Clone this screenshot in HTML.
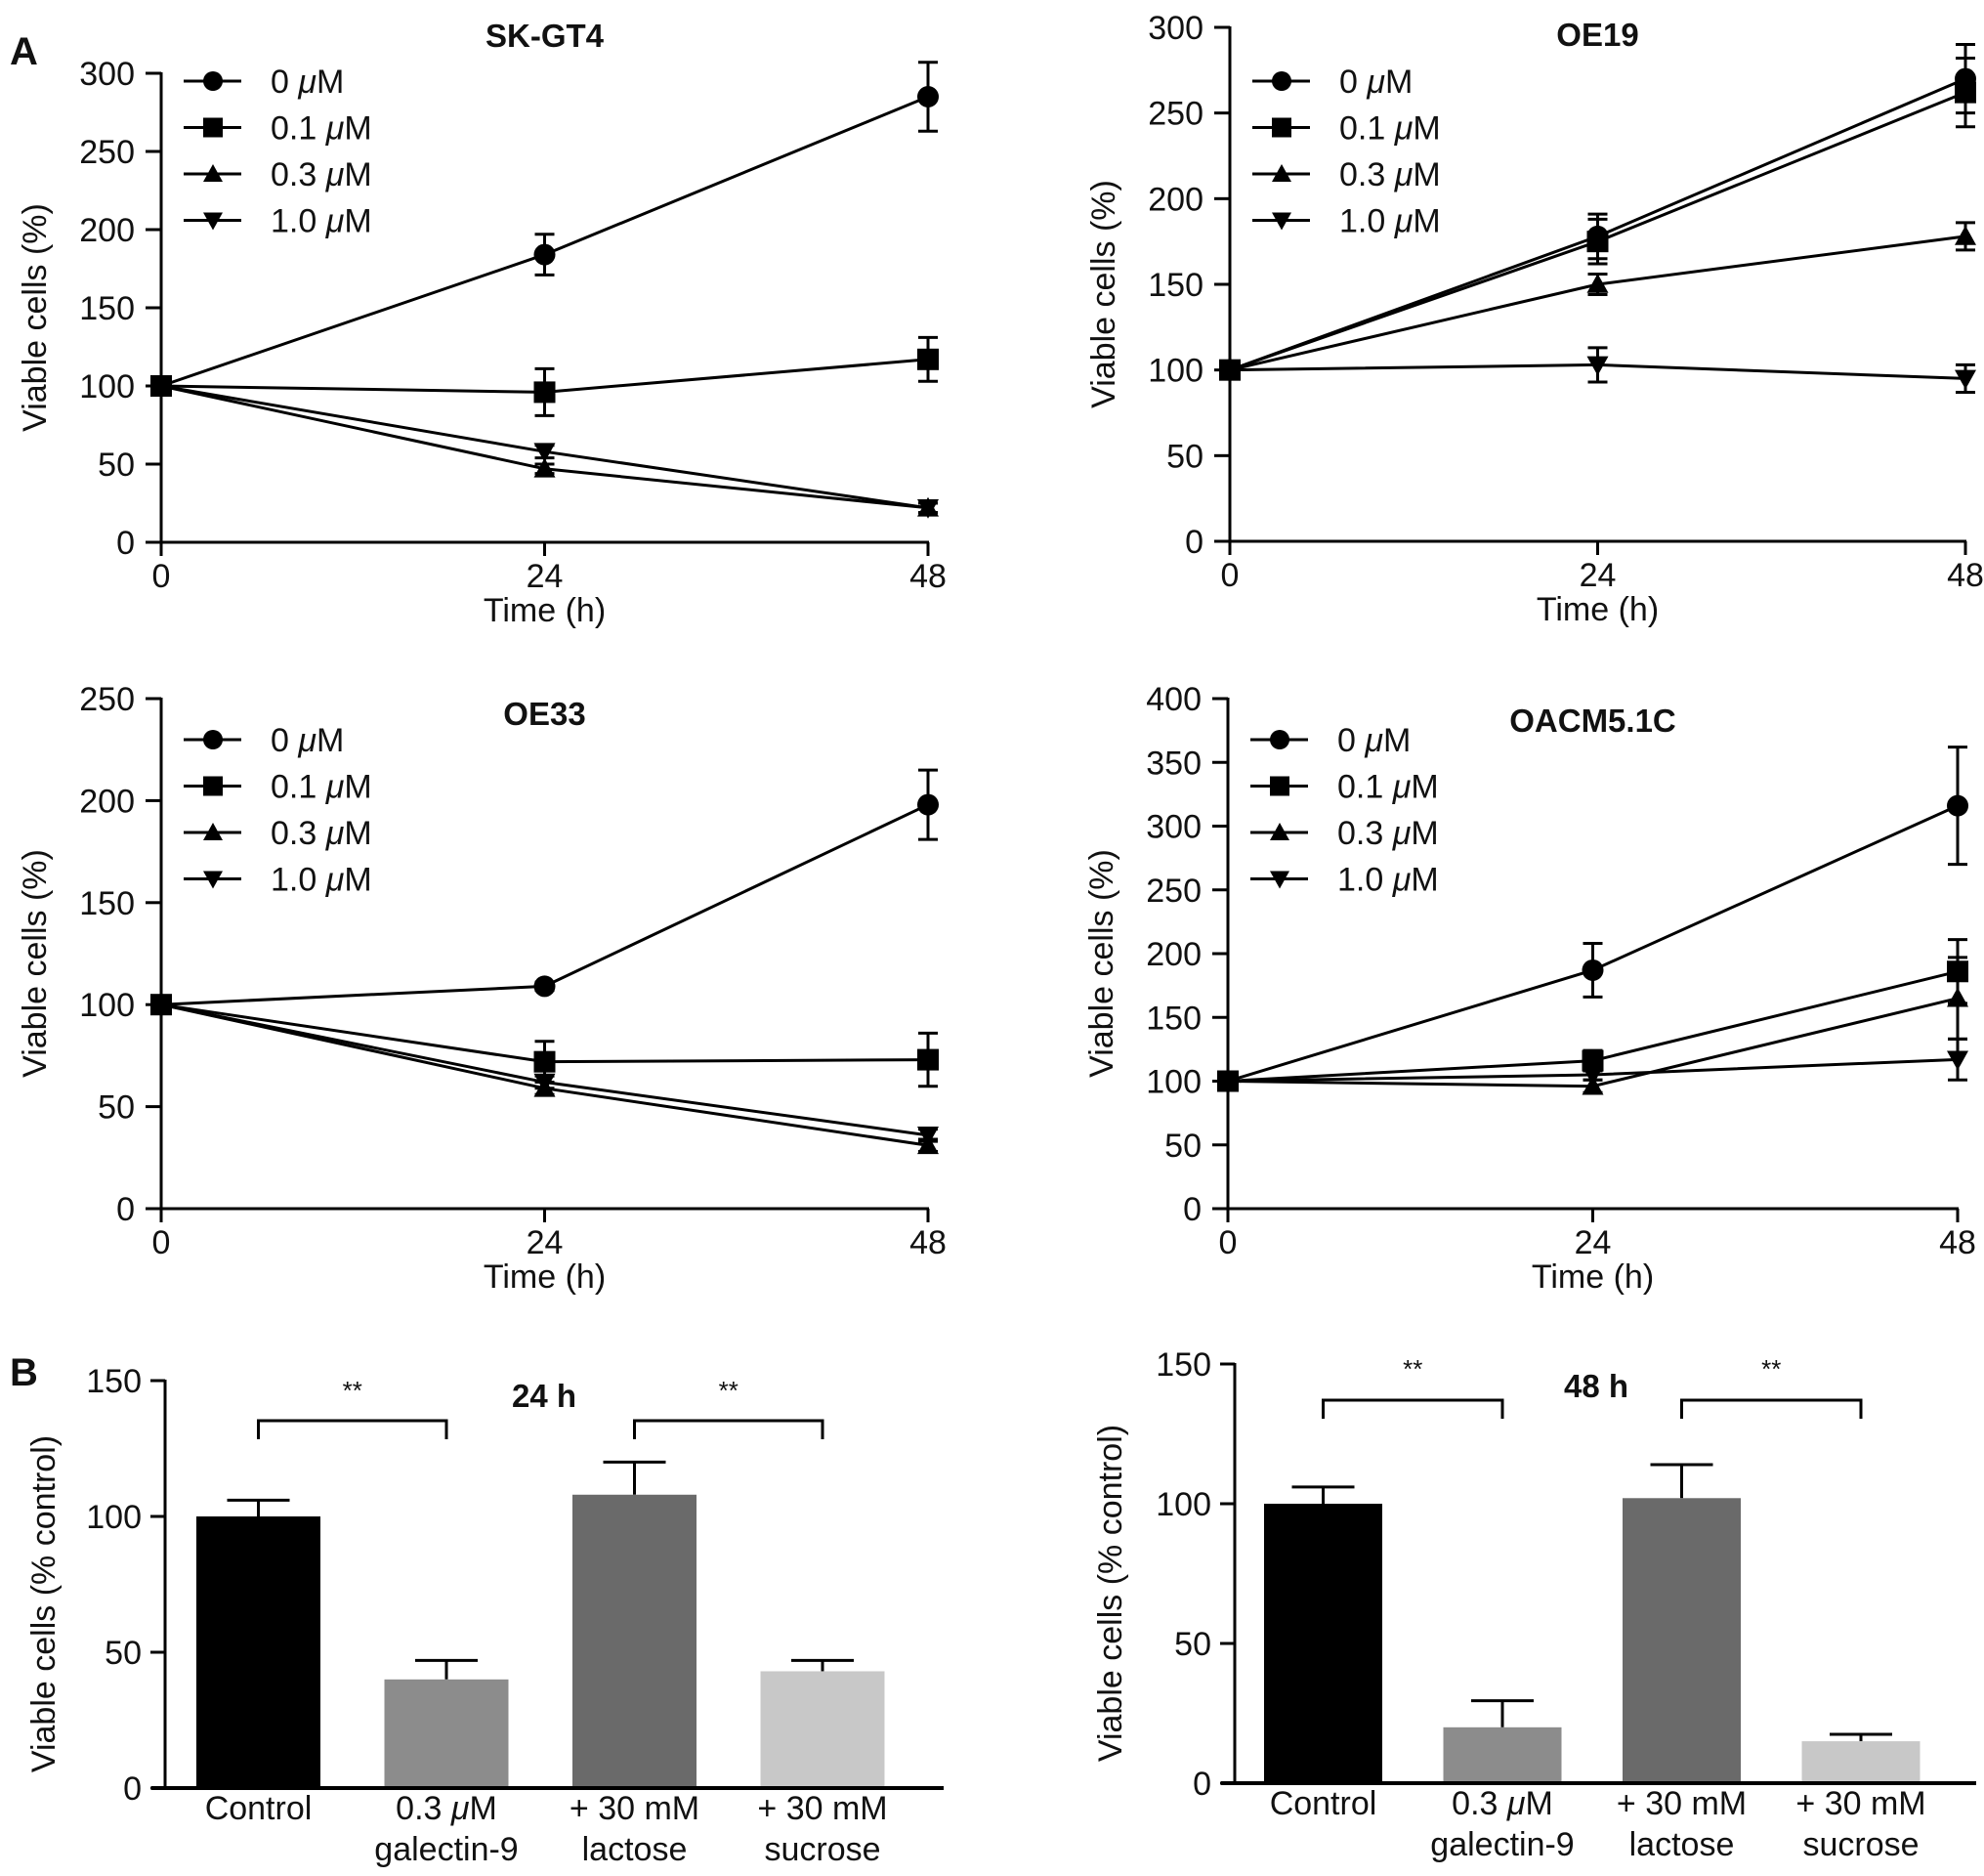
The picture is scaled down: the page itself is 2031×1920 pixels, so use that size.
<!DOCTYPE html>
<html><head><meta charset="utf-8">
<style>
html,body{margin:0;padding:0;background:#fff;}
svg{display:block;}
text{font-family:"Liberation Sans",sans-serif;fill:#111;}
</style></head>
<body>
<svg id="fig" width="2031" height="1920" viewBox="0 0 2031 1920" xmlns="http://www.w3.org/2000/svg">
<text x="10" y="66" font-size="40" font-weight="bold">A</text>
<text x="10" y="1418" font-size="40" font-weight="bold">B</text>
</svg>
<script>
// ---- data ----
const times = [0, 24, 48];
const seriesLabels = ["0 μM", "0.1 μM", "0.3 μM", "1.0 μM"];
const markerTypes = ["circle", "square", "up", "down"];

const skgt4Values = [[100,184,285],[100,96,117],[100,47,22],[100,58,22]];
const skgt4Errors = [[0,13,22],[0,15,14],[0,3,3],[0,4,3]];
const skgt4Ticks = [0,50,100,150,200,250,300];

const oe19Values = [[100,178,270],[100,175,262],[100,150,178],[100,103,95]];
const oe19Errors = [[0,13,20],[0,13,20],[0,6,8],[0,10,8]];
const oe19Ticks = [0,50,100,150,200,250,300];

const oe33Values = [[100,109,198],[100,72,73],[100,59,31],[100,62,36]];
const oe33Errors = [[0,2,17],[0,10,13],[0,3,3],[0,3,3]];
const oe33Ticks = [0,50,100,150,200,250];

const oacmValues = [[100,187,316],[100,116,186],[100,96,165],[100,105,117]];
const oacmErrors = [[0,21,46],[0,8,25],[0,5,32],[0,4,16]];
const oacmTicks = [0,50,100,150,200,250,300,350,400];

const barCategories = [["Control"],["0.3 μM","galectin-9"],["+ 30 mM","lactose"],["+ 30 mM","sucrose"]];
const bar24Values = [100, 40, 108, 43];
const bar24Errors = [6, 7, 12, 4];
const bar48Values = [100, 20, 102, 15];
const bar48Errors = [6, 9.5, 12, 2.5];
const barTicks = [0, 50, 100, 150];
const barColors = ["#000000", "#8c8c8c", "#6a6a6a", "#c8c8c8"];

const FS = 34;
const NS = "http://www.w3.org/2000/svg";
const svg = document.getElementById("fig");
function mk(tag, attrs, parent) {
  const e = document.createElementNS(NS, tag);
  for (const k in attrs) e.setAttribute(k, attrs[k]);
  (parent || svg).appendChild(e);
  return e;
}
function marker(g, type, cx, cy, s) {
  let m;
  if (type === "circle") m = mk("circle", {cx: cx, cy: cy, r: s, fill: "#000"}, g);
  else if (type === "square") m = mk("rect", {x: cx - s, y: cy - s, width: 2 * s, height: 2 * s, fill: "#000"}, g);
  else if (type === "up") m = mk("polygon", {points: `${cx},${cy - s} ${cx - s},${cy + s * 0.8} ${cx + s},${cy + s * 0.8}`, fill: "#000"}, g);
  else m = mk("polygon", {points: `${cx},${cy + s} ${cx - s},${cy - s * 0.8} ${cx + s},${cy - s * 0.8}`, fill: "#000"}, g);
  return m;
}

function lineChart(cfg) {
  const g = mk("g", {});
  
  
  const ymax = cfg.ticks[cfg.ticks.length - 1];
  const X = t => cfg.x0 + (t - times[0]) / (times[times.length - 1] - times[0]) * (cfg.x1 - cfg.x0);
  const Y = v => cfg.y0 - v / ymax * (cfg.y0 - cfg.ytop);
  const ya = mk("line", {x1: cfg.x0, y1: cfg.y0, x2: cfg.x0, y2: cfg.ytop - 1, stroke: "#000", "stroke-width": 3}, g);
  
  
  const xa = mk("line", {x1: cfg.x0 - 1, y1: cfg.y0, x2: cfg.x1 + 1, y2: cfg.y0, stroke: "#000", "stroke-width": 3}, g);
  
  
  cfg.ticks.forEach(t => {
    mk("line", {x1: cfg.x0 - 16, y1: Y(t), x2: cfg.x0, y2: Y(t), stroke: "#000", "stroke-width": 3}, g);
    const tl = mk("text", {x: cfg.x0 - 27, y: Y(t) + 12, "font-size": FS, "text-anchor": "end"}, g);
    tl.textContent = t;
    
    
  });
  times.forEach(t => {
    mk("line", {x1: X(t), y1: cfg.y0, x2: X(t), y2: cfg.y0 + 14, stroke: "#000", "stroke-width": 3}, g);
    const tl = mk("text", {x: X(t), y: cfg.y0 + 46, "font-size": FS, "text-anchor": "middle"}, g);
    tl.textContent = t;
    
    
  });
  const xt = mk("text", {x: X(24), y: cfg.y0 + 81, "font-size": FS, "text-anchor": "middle"}, g);
  xt.textContent = "Time (h)";
  
  
  const ytx = cfg.x0 - 118, ytc = (cfg.y0 + cfg.ytop) / 2 + 10;
  const yt = mk("text", {x: ytx, y: ytc, "font-size": FS, "text-anchor": "middle", transform: `rotate(-90 ${ytx} ${ytc})`}, g);
  yt.textContent = "Viable cells (%)";
  
  
  const ti = mk("text", {x: X(24), y: cfg.titleY, "font-size": 33, "font-weight": "bold", "text-anchor": "middle"}, g);
  ti.textContent = cfg.title;
  
  
  cfg.values.forEach((vals, si) => {
    const sg = mk("g", {}, g);
    
    
    const pts = vals.map((v, i) => `${X(times[i])},${Y(v)}`).join(" ");
    mk("polyline", {points: pts, fill: "none", stroke: "#000", "stroke-width": 3}, sg);
    vals.forEach((v, i) => {
      const e = cfg.errors[si][i];
      if (e > 0) {
        const cx = X(times[i]);
        mk("line", {x1: cx, y1: Y(v + e), x2: cx, y2: Y(v - e), stroke: "#000", "stroke-width": 3}, sg);
        mk("line", {x1: cx - 10, y1: Y(v + e), x2: cx + 10, y2: Y(v + e), stroke: "#000", "stroke-width": 3}, sg);
        mk("line", {x1: cx - 10, y1: Y(v - e), x2: cx + 10, y2: Y(v - e), stroke: "#000", "stroke-width": 3}, sg);
      }
      const m = marker(sg, markerTypes[si], X(times[i]), Y(v), 11);
      
      
    });
  });
  seriesLabels.forEach((lab, i) => {
    const ly = cfg.legY + i * 47.5;
    const lg = mk("g", {}, g);
    
    
    mk("line", {x1: cfg.x0 + 23, y1: ly, x2: cfg.x0 + 82, y2: ly, stroke: "#000", "stroke-width": 3}, lg);
    marker(lg, markerTypes[i], cfg.x0 + 53, ly, 10);
    const parts = lab.split(" ");
    const t = mk("text", {x: cfg.x0 + 112, y: ly + 12, "font-size": FS}, lg);
    t.textContent = parts[0] + " ";
    const ts = mk("tspan", {"font-style": "italic"}, t);
    ts.textContent = "μ";
    const ts2 = mk("tspan", {}, t);
    ts2.textContent = "M";
  });
}

lineChart({name: "chart-sk-gt4", title: "SK-GT4", x0: 165, x1: 950, y0: 555, ytop: 75, titleY: 48, legY: 83, ticks: skgt4Ticks, values: skgt4Values, errors: skgt4Errors});
lineChart({name: "chart-oe19", title: "OE19", x0: 1259, x1: 2012, y0: 554, ytop: 28, titleY: 47, legY: 83, ticks: oe19Ticks, values: oe19Values, errors: oe19Errors});
lineChart({name: "chart-oe33", title: "OE33", x0: 165, x1: 950, y0: 1237, ytop: 715, titleY: 742, legY: 757, ticks: oe33Ticks, values: oe33Values, errors: oe33Errors});
lineChart({name: "chart-oacm5-1c", title: "OACM5.1C", x0: 1257, x1: 2004, y0: 1237, ytop: 715, titleY: 749, legY: 757, ticks: oacmTicks, values: oacmValues, errors: oacmErrors});

function barChart(cfg) {
  const g = mk("g", {});
  
  
  const ymax = barTicks[barTicks.length - 1];
  const Y = v => cfg.y0 - v / ymax * (cfg.y0 - cfg.ytop);
  const slot = cfg.slot;
  const bw = cfg.bw;
  const BX = i => cfg.barStart + i * slot;
  cfg.values.forEach((v, i) => {
    const cx = BX(i) + bw / 2;
    const e = cfg.errors[i];
    mk("line", {x1: cx, y1: Y(v), x2: cx, y2: Y(v + e), stroke: "#000", "stroke-width": 3}, g);
    mk("line", {x1: cx - 32, y1: Y(v + e), x2: cx + 32, y2: Y(v + e), stroke: "#000", "stroke-width": 3}, g);
    const r = mk("rect", {x: BX(i), y: Y(v), width: bw, height: cfg.y0 - Y(v), fill: barColors[i]}, g);
    
    
    barCategories[i].forEach((line, li) => {
      const t = mk("text", {x: cx, y: cfg.y0 + 32 + li * 42, "font-size": FS, "text-anchor": "middle"}, g);
      if (line.indexOf("μ") >= 0) {
        t.textContent = "0.3 ";
        const ts = mk("tspan", {"font-style": "italic"}, t); ts.textContent = "μ";
        const ts2 = mk("tspan", {}, t); ts2.textContent = "M";
      } else t.textContent = line;
      
      
    });
  });
  const ya = mk("line", {x1: cfg.x0, y1: cfg.y0, x2: cfg.x0, y2: cfg.ytop - 1, stroke: "#000", "stroke-width": 3}, g);
  
  
  const xa = mk("line", {x1: cfg.x0 - 14, y1: cfg.y0, x2: cfg.x1 + 20, y2: cfg.y0, stroke: "#000", "stroke-width": 4}, g);
  
  
  barTicks.forEach(t => {
    mk("line", {x1: cfg.x0 - 15, y1: Y(t), x2: cfg.x0, y2: Y(t), stroke: "#000", "stroke-width": 3}, g);
    const tl = mk("text", {x: cfg.x0 - 24, y: Y(t) + 12, "font-size": FS, "text-anchor": "end"}, g);
    tl.textContent = t;
    
    
  });
  const yc = (cfg.y0 + cfg.ytop) / 2 + 20;
  const yt = mk("text", {x: cfg.ytx, y: yc, "font-size": FS, "text-anchor": "middle", transform: `rotate(-90 ${cfg.ytx} ${yc})`}, g);
  yt.textContent = "Viable cells (% control)";
  
  
  const ti = mk("text", {x: cfg.titleX, y: cfg.titleY, "font-size": 33, "font-weight": "bold", "text-anchor": "middle"}, g);
  ti.textContent = cfg.title;
  
  
  [[0, 1], [2, 3]].forEach(([a, b]) => {
    const xa1 = BX(a) + bw / 2, xb = BX(b) + bw / 2;
    const br = mk("polyline", {points: `${xa1},${cfg.brBot} ${xa1},${cfg.brTop} ${xb},${cfg.brTop} ${xb},${cfg.brBot}`, fill: "none", stroke: "#000", "stroke-width": 3}, g);
    
    
    const st = mk("text", {x: (xa1 + xb) / 2, y: cfg.starY, "font-size": 26, "text-anchor": "middle"}, g);
    st.textContent = "**";
    
    
  });
}

barChart({name: "bar-chart-24h", title: "24 h", x0: 169, x1: 946, barStart: 201, slot: 192.5, bw: 127, y0: 1830, ytop: 1413, ytx: 56, titleX: 557, titleY: 1440, brTop: 1454, brBot: 1473, starY: 1432, values: bar24Values, errors: bar24Errors});
barChart({name: "bar-chart-48h", title: "48 h", x0: 1264, x1: 2003, barStart: 1294, slot: 183.5, bw: 121, y0: 1825, ytop: 1396, ytx: 1148, titleX: 1634, titleY: 1430, brTop: 1433, brBot: 1452, starY: 1410, values: bar48Values, errors: bar48Errors});
</script>
</body></html>
